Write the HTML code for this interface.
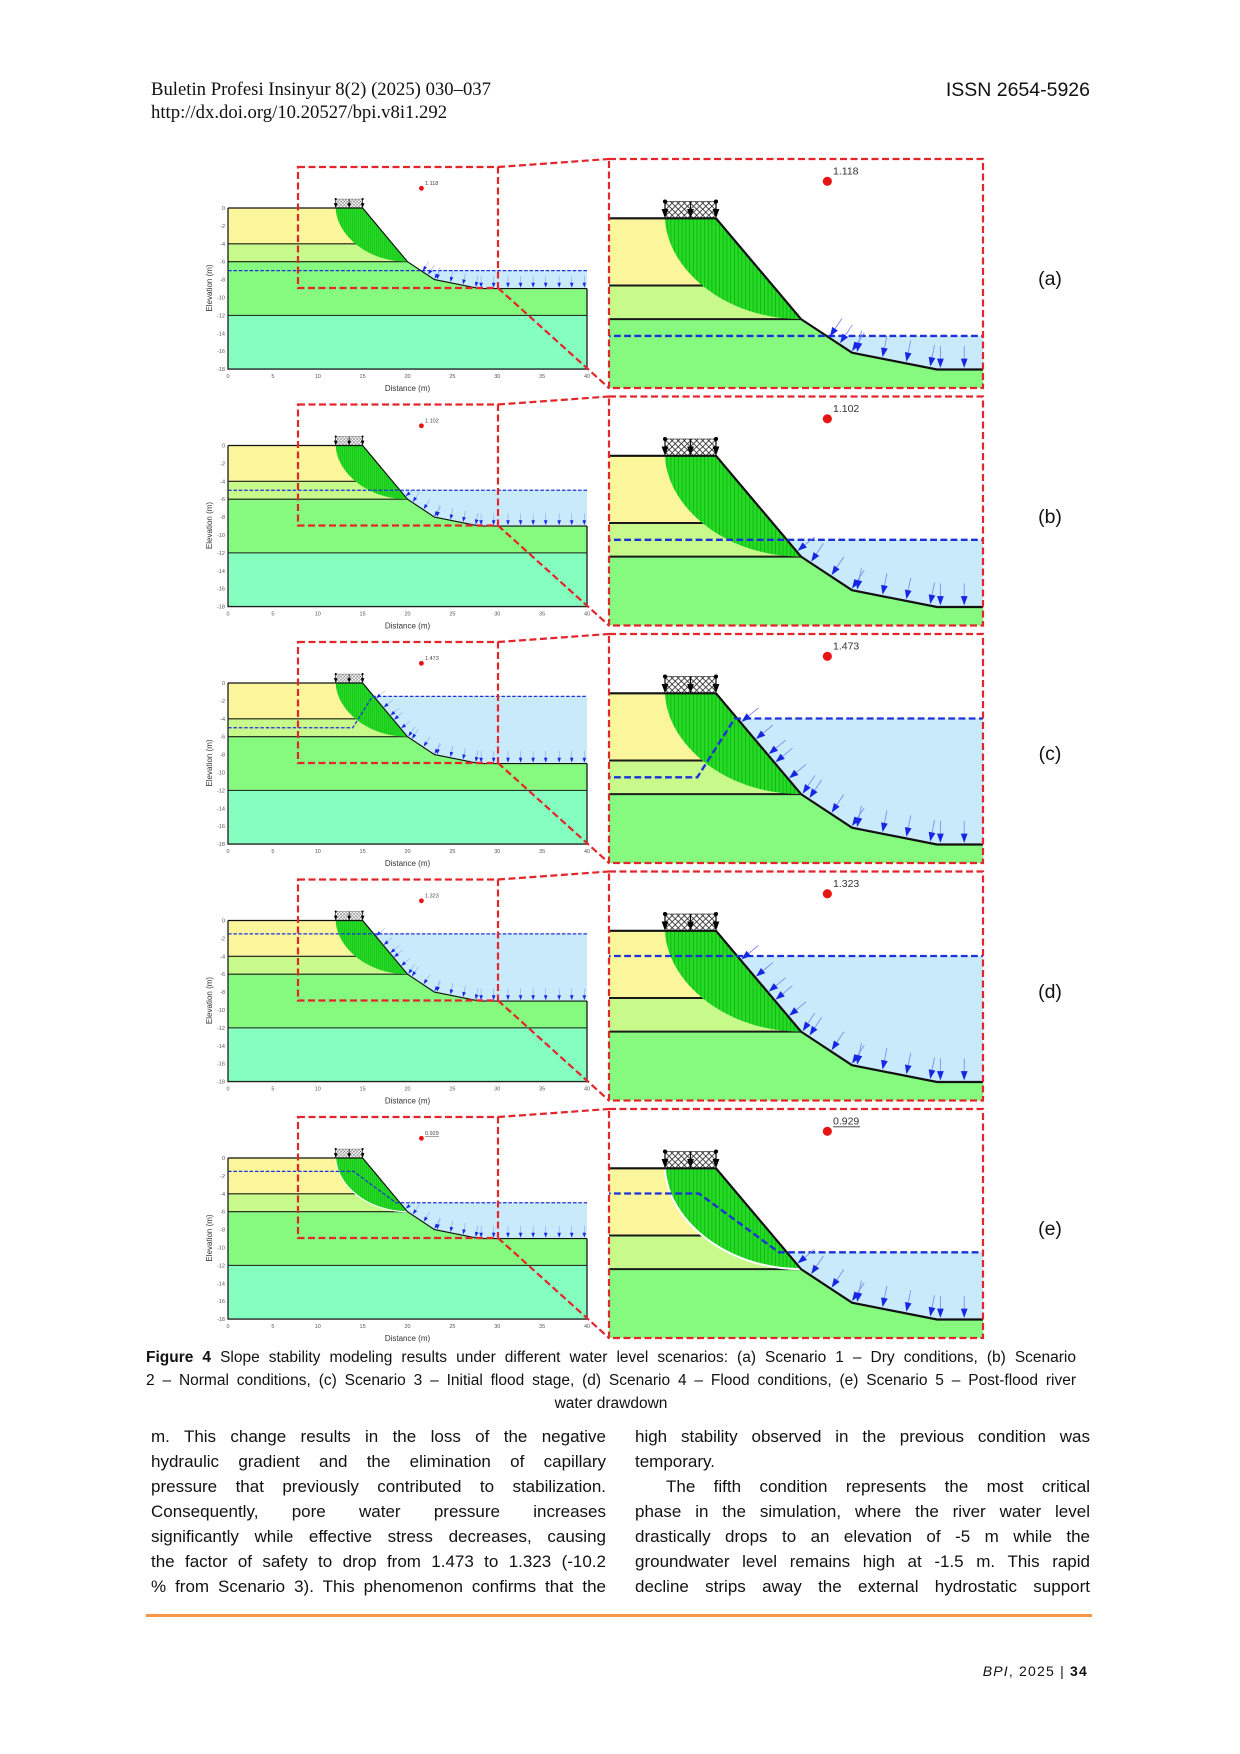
<!DOCTYPE html>
<html>
<head>
<meta charset="utf-8">
<style>
html,body{margin:0;padding:0;background:#fff;}
body{width:1240px;height:1754px;position:relative;overflow:hidden;font-family:"Liberation Sans",Arial,sans-serif;color:#111;}
.abs{position:absolute;}
.hdr{font-family:"Liberation Serif","Times New Roman",serif;font-size:18.7px;line-height:20px;color:#111;}
.lbl{position:absolute;left:1020px;width:60px;text-align:center;font-size:19.5px;line-height:24px;color:#111;}
.cap{position:absolute;left:146px;width:930px;font-size:15.5px;line-height:23px;}
.cap div{text-align:justify;text-align-last:justify;}
.col{position:absolute;font-size:17px;line-height:25px;}
.col div{text-align:justify;text-align-last:justify;}
</style>
</head>
<body>

<div class="abs hdr" style="left:151px;top:80px;">Buletin Profesi Insinyur 8(2) (2025) 030–037</div>
<div class="abs hdr" style="left:151px;top:103px;">http://dx.doi.org/10.20527/bpi.v8i1.292</div>
<div class="abs" style="right:150px;top:78px;font-size:19.5px;line-height:24px;">ISSN 2654-5926</div>

<svg class="abs" style="left:0;top:0" width="1240" height="1345" viewBox="0 0 1240 1345" xmlns="http://www.w3.org/2000/svg">
<defs>
  <pattern id="vh" patternUnits="userSpaceOnUse" width="0.22" height="2">
    <rect width="0.22" height="2" fill="#24dc24"/>
    <rect x="0" y="0" width="0.045" height="2" fill="#14a814"/>
  </pattern>
  <pattern id="xh" patternUnits="userSpaceOnUse" width="0.36" height="0.36">
    <rect width="0.36" height="0.36" fill="#fff"/>
    <path d="M0,0L0.36,0.36M0.36,0L0,0.36" stroke="#222" stroke-width="0.045"/>
  </pattern>
  <clipPath id="cr"><rect x="609" y="159" width="374" height="229"/></clipPath>

  <g id="ar">
    <line x1="0" y1="-0.5" x2="0" y2="-1.3" stroke="#7a88f2" stroke-width="0.05"/>
    <polygon points="0,0 -0.2,-0.55 0.2,-0.55" fill="#1626e2"/>
  </g>

  <g id="load">
    <rect x="12" y="-1" width="3" height="1" fill="url(#xh)" stroke="#333" stroke-width="0.04"/>
    <g stroke="#000" stroke-width="0.07">
      <line x1="12" y1="-1" x2="12" y2="-0.4"/>
      <line x1="13.5" y1="-1" x2="13.5" y2="-0.4"/>
      <line x1="15" y1="-1" x2="15" y2="-0.4"/>
    </g>
    <g fill="#000">
      <polygon points="12,0 11.8,-0.55 12.2,-0.55"/>
      <polygon points="13.5,0 13.3,-0.55 13.7,-0.55"/>
      <polygon points="15,0 14.8,-0.55 15.2,-0.55"/>
      <circle cx="12" cy="-1" r="0.12"/>
      <circle cx="15" cy="-1" r="0.12"/>
    </g>
  </g>

  <g id="base">
    <polygon fill="#86fa7e" points="0,0 15,0 20,6 23,8 28,9 40,9 40,18 0,18"/>
    <polygon fill="#fbf69c" points="0,0 15,0 18.333,4 0,4"/>
    <polygon fill="#c8f98b" points="0,4 18.333,4 20,6 0,6"/>
    <rect fill="#84ffc0" x="0" y="12" width="40" height="6"/>
    <g stroke="#1a1a1a" stroke-width="0.12">
      <line x1="0" y1="4" x2="18.3" y2="4"/>
      <line x1="0" y1="6" x2="20" y2="6"/>
      <line x1="0" y1="12" x2="40" y2="12"/>
    </g>
    <path d="M12,0 C12.1,3 15.5,6 20,6 L15,0 Z" fill="url(#vh)"/>
    <polyline points="0,0 0,18 40,18 40,9" fill="none" stroke="#222" stroke-width="0.15"/>
    <use href="#load"/>
  </g>

  <polyline id="surf" points="0,0 15,0 20,6 23,8 28,9 40,9" fill="none" stroke="#111" stroke-width="0.13"/>
  <circle id="fos" cx="21.55" cy="-2.2" r="0.27" fill="#e81414"/>

  <g id="arT">
    <use href="#ar" transform="translate(23,7.9) rotate(33.7)"/>
    <use href="#ar" transform="translate(23.3,7.96) rotate(11.3)"/>
    <use href="#ar" transform="translate(24.8,8.26) rotate(11.3)"/>
    <use href="#ar" transform="translate(26.2,8.54) rotate(11.3)"/>
    <use href="#ar" transform="translate(27.6,8.82) rotate(11.3)"/>
    <use href="#ar" transform="translate(28.2,8.9)"/>
    <use href="#ar" transform="translate(29.6,8.9)"/>
    <use href="#ar" transform="translate(31.2,8.9)"/>
    <use href="#ar" transform="translate(32.6,8.9)"/>
    <use href="#ar" transform="translate(34.0,8.9)"/>
    <use href="#ar" transform="translate(35.4,8.9)"/>
    <use href="#ar" transform="translate(36.9,8.9)"/>
    <use href="#ar" transform="translate(38.3,8.9)"/>
    <use href="#ar" transform="translate(39.7,8.9)"/>
  </g>
  <g id="ar7">
    <use href="#ar" transform="translate(21.7,7.03) rotate(33.7)"/>
    <use href="#ar" transform="translate(22.3,7.43) rotate(33.7)"/>
  </g>
  <g id="ar5">
    <use href="#ar" transform="translate(19.8,5.66) rotate(50.2)"/>
    <use href="#ar" transform="translate(20.6,6.3) rotate(33.7)"/>
    <use href="#ar" transform="translate(21.8,7.1) rotate(33.7)"/>
  </g>
  <g id="ar15">
    <use href="#ar" transform="translate(16.5,1.7) rotate(50.2)"/>
    <use href="#ar" transform="translate(17.35,2.72) rotate(50.2)"/>
    <use href="#ar" transform="translate(18.1,3.62) rotate(50.2)"/>
    <use href="#ar" transform="translate(18.5,4.1) rotate(50.2)"/>
    <use href="#ar" transform="translate(19.3,5.06) rotate(50.2)"/>
    <use href="#ar" transform="translate(20.1,5.97) rotate(33.7)"/>
    <use href="#ar" transform="translate(20.5,6.23) rotate(33.7)"/>
    <use href="#ar" transform="translate(21.8,7.1) rotate(33.7)"/>
  </g>

  <g id="s1">
    <use href="#base"/>
    <polygon fill="#c9eafb" points="21.5,7 23,8 28,9 40,9 40,7"/>
    <use href="#surf"/>
    <polyline points="0,7 40,7" fill="none" stroke="#1b32d8" stroke-width="0.14" stroke-dasharray="0.4 0.2"/>
    <use href="#ar7"/><use href="#arT"/><use href="#fos"/>
  </g>
  <g id="s2">
    <use href="#base"/>
    <polygon fill="#c9eafb" points="19.167,5 20,6 23,8 28,9 40,9 40,5"/>
    <use href="#surf"/>
    <polyline points="0,5 40,5" fill="none" stroke="#1b32d8" stroke-width="0.14" stroke-dasharray="0.4 0.2"/>
    <use href="#ar5"/><use href="#arT"/><use href="#fos"/>
  </g>
  <g id="s3">
    <use href="#base"/>
    <polygon fill="#c9eafb" points="16.25,1.5 20,6 23,8 28,9 40,9 40,1.5"/>
    <use href="#surf"/>
    <polyline points="0,5 13.9,5 16.1,1.5 40,1.5" fill="none" stroke="#1b32d8" stroke-width="0.14" stroke-dasharray="0.4 0.2"/>
    <use href="#ar15"/><use href="#arT"/><use href="#fos"/>
  </g>
  <g id="s4">
    <use href="#base"/>
    <polygon fill="#c9eafb" points="16.25,1.5 20,6 23,8 28,9 40,9 40,1.5"/>
    <use href="#surf"/>
    <polyline points="0,1.5 40,1.5" fill="none" stroke="#1b32d8" stroke-width="0.14" stroke-dasharray="0.4 0.2"/>
    <use href="#ar15"/><use href="#arT"/><use href="#fos"/>
  </g>
  <g id="s5">
    <use href="#base"/>
    <path d="M12,0 C12.1,3 15.5,6 20,6" fill="none" stroke="#fff" stroke-width="0.12"/>
    <polygon fill="#c9eafb" points="19.167,5 20,6 23,8 28,9 40,9 40,5"/>
    <use href="#surf"/>
    <polyline points="0,1.5 14,1.5 18.7,5 40,5" fill="none" stroke="#1b32d8" stroke-width="0.14" stroke-dasharray="0.4 0.2"/>
    <use href="#ar5"/><use href="#arT"/><use href="#fos"/>
  </g>
</defs>

<!-- Panel (a) -->
<g transform="translate(0,0)">
  <use href="#s1" transform="translate(228,208) scale(8.975,8.95)"/>
  <g clip-path="url(#cr)"><use href="#s1" transform="translate(461,218.3) scale(17,16.8)"/></g>
  <g font-family="Liberation Sans, Arial, sans-serif" fill="#555" font-size="5.5" text-anchor="end">
    <text x="225" y="210">0</text><text x="225" y="227.9">-2</text><text x="225" y="245.8">-4</text><text x="225" y="263.7">-6</text><text x="225" y="281.6">-8</text><text x="225" y="299.5">-10</text><text x="225" y="317.4">-12</text><text x="225" y="335.3">-14</text><text x="225" y="353.2">-16</text><text x="225" y="371.1">-18</text>
  </g>
  <g font-family="Liberation Sans, Arial, sans-serif" fill="#555" font-size="5.5" text-anchor="middle">
    <text x="228" y="378">0</text><text x="272.9" y="378">5</text><text x="317.75" y="378">10</text><text x="362.6" y="378">15</text><text x="407.5" y="378">20</text><text x="452.4" y="378">25</text><text x="497.25" y="378">30</text><text x="542.1" y="378">35</text><text x="587" y="378">40</text>
  </g>
  <text x="407.5" y="391" font-family="Liberation Sans, Arial, sans-serif" font-size="8" fill="#333" text-anchor="middle">Distance (m)</text>
  <text transform="translate(212,288) rotate(-90)" font-family="Liberation Sans, Arial, sans-serif" font-size="8" fill="#333" text-anchor="middle">Elevation (m)</text>
  <text x="425" y="185.2" font-family="Liberation Sans, Arial, sans-serif" font-size="5.5" fill="#444">1.118</text>
  <text x="833" y="174.5" font-family="Liberation Sans, Arial, sans-serif" font-size="10.5" fill="#333">1.118</text>
  <g fill="none" stroke="#e3262b" stroke-width="2.2" stroke-dasharray="7 3.5">
    <rect x="298" y="167" width="200" height="121"/>
    <rect x="609" y="159" width="374" height="229"/>
    <line x1="498" y1="167" x2="609" y2="159"/>
    <line x1="498" y1="288" x2="609" y2="388"/>
  </g>
</g>

<!-- Panel (b) -->
<g transform="translate(0,237.5)">
  <use href="#s2" transform="translate(228,208) scale(8.975,8.95)"/>
  <g clip-path="url(#cr)"><use href="#s2" transform="translate(461,218.3) scale(17,16.8)"/></g>
  <g font-family="Liberation Sans, Arial, sans-serif" fill="#555" font-size="5.5" text-anchor="end">
    <text x="225" y="210">0</text><text x="225" y="227.9">-2</text><text x="225" y="245.8">-4</text><text x="225" y="263.7">-6</text><text x="225" y="281.6">-8</text><text x="225" y="299.5">-10</text><text x="225" y="317.4">-12</text><text x="225" y="335.3">-14</text><text x="225" y="353.2">-16</text><text x="225" y="371.1">-18</text>
  </g>
  <g font-family="Liberation Sans, Arial, sans-serif" fill="#555" font-size="5.5" text-anchor="middle">
    <text x="228" y="378">0</text><text x="272.9" y="378">5</text><text x="317.75" y="378">10</text><text x="362.6" y="378">15</text><text x="407.5" y="378">20</text><text x="452.4" y="378">25</text><text x="497.25" y="378">30</text><text x="542.1" y="378">35</text><text x="587" y="378">40</text>
  </g>
  <text x="407.5" y="391" font-family="Liberation Sans, Arial, sans-serif" font-size="8" fill="#333" text-anchor="middle">Distance (m)</text>
  <text transform="translate(212,288) rotate(-90)" font-family="Liberation Sans, Arial, sans-serif" font-size="8" fill="#333" text-anchor="middle">Elevation (m)</text>
  <text x="425" y="185.2" font-family="Liberation Sans, Arial, sans-serif" font-size="5.5" fill="#444">1.102</text>
  <text x="833" y="174.5" font-family="Liberation Sans, Arial, sans-serif" font-size="10.5" fill="#333">1.102</text>
  <g fill="none" stroke="#e3262b" stroke-width="2.2" stroke-dasharray="7 3.5">
    <rect x="298" y="167" width="200" height="121"/>
    <rect x="609" y="159" width="374" height="229"/>
    <line x1="498" y1="167" x2="609" y2="159"/>
    <line x1="498" y1="288" x2="609" y2="388"/>
  </g>
</g>

<!-- Panel (c) -->
<g transform="translate(0,475)">
  <use href="#s3" transform="translate(228,208) scale(8.975,8.95)"/>
  <g clip-path="url(#cr)"><use href="#s3" transform="translate(461,218.3) scale(17,16.8)"/></g>
  <g font-family="Liberation Sans, Arial, sans-serif" fill="#555" font-size="5.5" text-anchor="end">
    <text x="225" y="210">0</text><text x="225" y="227.9">-2</text><text x="225" y="245.8">-4</text><text x="225" y="263.7">-6</text><text x="225" y="281.6">-8</text><text x="225" y="299.5">-10</text><text x="225" y="317.4">-12</text><text x="225" y="335.3">-14</text><text x="225" y="353.2">-16</text><text x="225" y="371.1">-18</text>
  </g>
  <g font-family="Liberation Sans, Arial, sans-serif" fill="#555" font-size="5.5" text-anchor="middle">
    <text x="228" y="378">0</text><text x="272.9" y="378">5</text><text x="317.75" y="378">10</text><text x="362.6" y="378">15</text><text x="407.5" y="378">20</text><text x="452.4" y="378">25</text><text x="497.25" y="378">30</text><text x="542.1" y="378">35</text><text x="587" y="378">40</text>
  </g>
  <text x="407.5" y="391" font-family="Liberation Sans, Arial, sans-serif" font-size="8" fill="#333" text-anchor="middle">Distance (m)</text>
  <text transform="translate(212,288) rotate(-90)" font-family="Liberation Sans, Arial, sans-serif" font-size="8" fill="#333" text-anchor="middle">Elevation (m)</text>
  <text x="425" y="185.2" font-family="Liberation Sans, Arial, sans-serif" font-size="5.5" fill="#444">1.473</text>
  <text x="833" y="174.5" font-family="Liberation Sans, Arial, sans-serif" font-size="10.5" fill="#333">1.473</text>
  <g fill="none" stroke="#e3262b" stroke-width="2.2" stroke-dasharray="7 3.5">
    <rect x="298" y="167" width="200" height="121"/>
    <rect x="609" y="159" width="374" height="229"/>
    <line x1="498" y1="167" x2="609" y2="159"/>
    <line x1="498" y1="288" x2="609" y2="388"/>
  </g>
</g>

<!-- Panel (d) -->
<g transform="translate(0,712.5)">
  <use href="#s4" transform="translate(228,208) scale(8.975,8.95)"/>
  <g clip-path="url(#cr)"><use href="#s4" transform="translate(461,218.3) scale(17,16.8)"/></g>
  <g font-family="Liberation Sans, Arial, sans-serif" fill="#555" font-size="5.5" text-anchor="end">
    <text x="225" y="210">0</text><text x="225" y="227.9">-2</text><text x="225" y="245.8">-4</text><text x="225" y="263.7">-6</text><text x="225" y="281.6">-8</text><text x="225" y="299.5">-10</text><text x="225" y="317.4">-12</text><text x="225" y="335.3">-14</text><text x="225" y="353.2">-16</text><text x="225" y="371.1">-18</text>
  </g>
  <g font-family="Liberation Sans, Arial, sans-serif" fill="#555" font-size="5.5" text-anchor="middle">
    <text x="228" y="378">0</text><text x="272.9" y="378">5</text><text x="317.75" y="378">10</text><text x="362.6" y="378">15</text><text x="407.5" y="378">20</text><text x="452.4" y="378">25</text><text x="497.25" y="378">30</text><text x="542.1" y="378">35</text><text x="587" y="378">40</text>
  </g>
  <text x="407.5" y="391" font-family="Liberation Sans, Arial, sans-serif" font-size="8" fill="#333" text-anchor="middle">Distance (m)</text>
  <text transform="translate(212,288) rotate(-90)" font-family="Liberation Sans, Arial, sans-serif" font-size="8" fill="#333" text-anchor="middle">Elevation (m)</text>
  <text x="425" y="185.2" font-family="Liberation Sans, Arial, sans-serif" font-size="5.5" fill="#444">1.323</text>
  <text x="833" y="174.5" font-family="Liberation Sans, Arial, sans-serif" font-size="10.5" fill="#333">1.323</text>
  <g fill="none" stroke="#e3262b" stroke-width="2.2" stroke-dasharray="7 3.5">
    <rect x="298" y="167" width="200" height="121"/>
    <rect x="609" y="159" width="374" height="229"/>
    <line x1="498" y1="167" x2="609" y2="159"/>
    <line x1="498" y1="288" x2="609" y2="388"/>
  </g>
</g>

<!-- Panel (e) -->
<g transform="translate(0,950)">
  <use href="#s5" transform="translate(228,208) scale(8.975,8.95)"/>
  <g clip-path="url(#cr)"><use href="#s5" transform="translate(461,218.3) scale(17,16.8)"/></g>
  <g font-family="Liberation Sans, Arial, sans-serif" fill="#555" font-size="5.5" text-anchor="end">
    <text x="225" y="210">0</text><text x="225" y="227.9">-2</text><text x="225" y="245.8">-4</text><text x="225" y="263.7">-6</text><text x="225" y="281.6">-8</text><text x="225" y="299.5">-10</text><text x="225" y="317.4">-12</text><text x="225" y="335.3">-14</text><text x="225" y="353.2">-16</text><text x="225" y="371.1">-18</text>
  </g>
  <g font-family="Liberation Sans, Arial, sans-serif" fill="#555" font-size="5.5" text-anchor="middle">
    <text x="228" y="378">0</text><text x="272.9" y="378">5</text><text x="317.75" y="378">10</text><text x="362.6" y="378">15</text><text x="407.5" y="378">20</text><text x="452.4" y="378">25</text><text x="497.25" y="378">30</text><text x="542.1" y="378">35</text><text x="587" y="378">40</text>
  </g>
  <text x="407.5" y="391" font-family="Liberation Sans, Arial, sans-serif" font-size="8" fill="#333" text-anchor="middle">Distance (m)</text>
  <text transform="translate(212,288) rotate(-90)" font-family="Liberation Sans, Arial, sans-serif" font-size="8" fill="#333" text-anchor="middle">Elevation (m)</text>
  <text x="425" y="185.2" font-family="Liberation Sans, Arial, sans-serif" font-size="5.5" fill="#444">0.929</text>
  <line x1="425" y1="186.3" x2="439" y2="186.3" stroke="#444" stroke-width="0.5"/>
  <text x="833" y="174.5" font-family="Liberation Sans, Arial, sans-serif" font-size="10.5" fill="#333">0.929</text>
  <line x1="833" y1="176.8" x2="860" y2="176.8" stroke="#333" stroke-width="0.9"/>
  <g fill="none" stroke="#e3262b" stroke-width="2.2" stroke-dasharray="7 3.5">
    <rect x="298" y="167" width="200" height="121"/>
    <rect x="609" y="159" width="374" height="229"/>
    <line x1="498" y1="167" x2="609" y2="159"/>
    <line x1="498" y1="288" x2="609" y2="388"/>
  </g>
</g>
</svg>

<div class="lbl" style="top:267px;">(a)</div>
<div class="lbl" style="top:504.5px;">(b)</div>
<div class="lbl" style="top:742px;">(c)</div>
<div class="lbl" style="top:979.5px;">(d)</div>
<div class="lbl" style="top:1217px;">(e)</div>

<div class="cap" style="top:1345.5px;">
  <div><b>Figure 4</b> Slope stability modeling results under different water level scenarios: (a) Scenario 1 – Dry conditions, (b) Scenario</div>
  <div>2 – Normal conditions, (c) Scenario 3 – Initial flood stage, (d) Scenario 4 – Flood conditions, (e) Scenario 5 – Post-flood river</div>
  <div style="text-align:center;text-align-last:center;">water drawdown</div>
</div>

<div class="col" style="left:151px;width:455px;top:1423.5px;">
  <div>m. This change results in the loss of the negative</div>
  <div>hydraulic gradient and the elimination of capillary</div>
  <div>pressure that previously contributed to stabilization.</div>
  <div>Consequently, pore water pressure increases</div>
  <div>significantly while effective stress decreases, causing</div>
  <div>the factor of safety to drop from 1.473 to 1.323 (-10.2</div>
  <div>% from Scenario 3). This phenomenon confirms that the</div>
</div>

<div class="col" style="left:635px;width:455px;top:1423.5px;">
  <div>high stability observed in the previous condition was</div>
  <div style="text-align:left;text-align-last:left;">temporary.</div>
  <div style="padding-left:31px;">The fifth condition represents the most critical</div>
  <div>phase in the simulation, where the river water level</div>
  <div>drastically drops to an elevation of -5 m while the</div>
  <div>groundwater level remains high at -1.5 m. This rapid</div>
  <div>decline strips away the external hydrostatic support</div>
</div>

<div class="abs" style="left:146px;top:1614px;width:946px;height:3px;background:#f79646;"></div>

<div class="abs" style="right:152px;top:1662px;font-size:14px;line-height:18px;letter-spacing:1.2px;color:#111;"><i>BPI</i>, 2025 | <b>34</b></div>

</body>
</html>
